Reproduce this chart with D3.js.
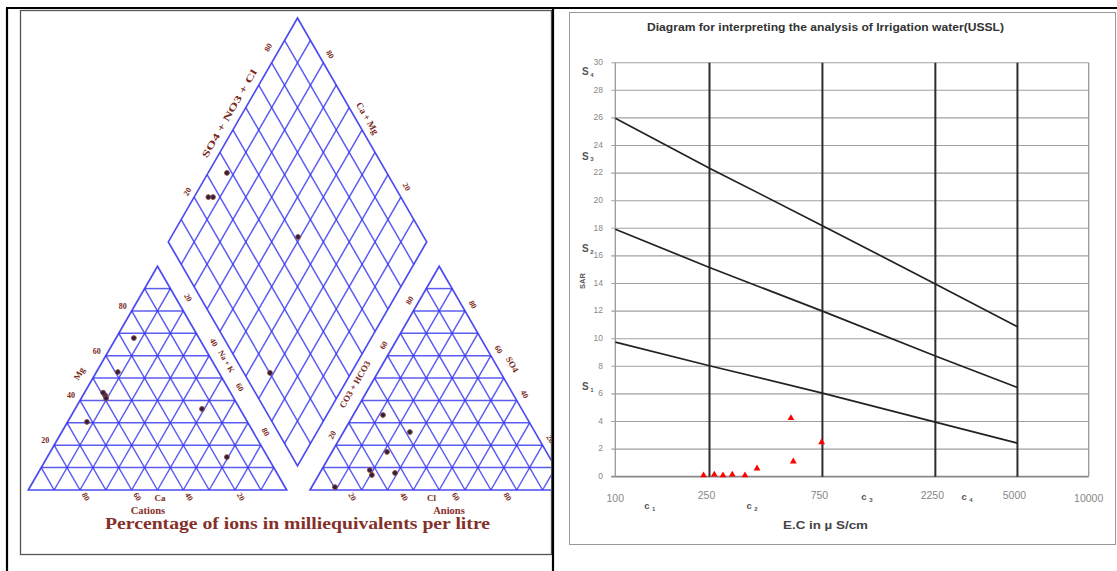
<!DOCTYPE html>
<html><head><meta charset="utf-8">
<script src="https://cdn.jsdelivr.net/npm/d3@7"></script>
<style>html,body{margin:0;padding:0;background:#fff;} svg{display:block}</style>
</head><body>
<svg id="c" width="1117" height="571"></svg>
<script>
// ================= DATA =================
// Piper diagram
const gridPercents = [10,20,30,40,50,60,70,80,90];
const edgeTickValues = [20,40,60,80];
const edgeTickLabels = ["20","40","60","80"];
// cation triangle samples (% Mg = top apex, % Na+K = bottom-right)
const cationMg  = [67.9,52.7,42.4,41.0,43.5,30.4,36.2,14.7];
const cationNaK = [6.9, 8.3, 8.5, 9.6, 7.2, 7.5, 49.1,69.5];
// anion triangle samples (% SO4 = top apex, % Cl = bottom-right)
const anionSO4 = [33.5,25.9,17.0,8.9,6.7,7.6,1.3];
const anionCl  = [11.5,25.7,21.3,18.7,20.6,29.1,9.0];
// diamond samples (a: toward left corner, b: toward right corner, %)
const diamondA = [92.7,94.5,92.7,50.9,31.4];
const diamondB = [27.3,25.5,38.1,51.3,10.1];

// USSL diagram
const sarTicks = [0,2,4,6,8,10,12,14,16,18,20,22,24,26,28,30];
const ecTicks = [100,250,750,2250,5000,10000];
const ecTickLabels = ["100","250","750","2250","5000","10000"];
const classBoundaryEC = [250,750,2250,5000];
const lineEC = [100,250,750,2250,5000];
const s1s2Line = [9.75,8.04,6.06,3.95,2.43];
const s2s3Line = [17.93,15.16,12.0,8.75,6.46];
const s3s4Line = [25.97,22.36,18.19,13.97,10.86];
const sampleEC  = [236,262,285,312,353,397,552,565,744];
const sampleSAR = [0.1,0.15,0.1,0.15,0.1,0.6,4.25,1.1,2.5];
const cClassLabels = ["1","2","3","4"];
const cClassEC = [140,378,1156,3062];
const sClassLabels = ["1","2","3","4"];
const sClassSAR = [6.5,16.5,23.2,29.3];

// ================= DRAW =================
const svg = d3.select("#c");

// ---- frames ----
svg.append("rect").attr("x",20.5).attr("y",10.5).attr("width",531).attr("height",544)
  .attr("fill","none").attr("stroke","#555").attr("stroke-width",1.3);
svg.append("rect").attr("x",569.5).attr("y",12.5).attr("width",546).attr("height",532)
  .attr("fill","none").attr("stroke","#999").attr("stroke-width",1);
const frame = [[6,8,1117,8],[7,8,7,571],[553,8,553,571]];
frame.forEach(f=>svg.append("line").attr("x1",f[0]).attr("y1",f[1]).attr("x2",f[2]).attr("y2",f[3])
  .attr("stroke","#000").attr("stroke-width",2.2));

// ================= PIPER =================
svg.append("clipPath").attr("id","pclip").append("rect").attr("x",21).attr("y",11).attr("width",530).attr("height",543);
const piper = svg.append("g").attr("clip-path","url(#pclip)");
const gridColor = "#3838f0";

const xCat = d3.scaleLinear().domain([0,100]).range([28.3,286.7]);
const xAn  = d3.scaleLinear().domain([0,100]).range([310,568.4]);
const yTri = d3.scaleLinear().domain([0,100]).range([490,266.2]);
const tern = (xs, top, right) => [xs(right + top/2), yTri(top)];

const xD = d3.scaleLinear().domain([-100,100]).range([168.3,426.7]);
const yD = d3.scaleLinear().domain([0,200]).range([465.8,18]);
const dPt = (a,b) => [xD(b-a), yD(a+b)];

const lineGen = d3.line();

function drawTriangle(xs){
  const g = piper.append("g");
  g.append("path").attr("d", lineGen([tern(xs,0,0),tern(xs,0,100),tern(xs,100,0)])+"Z")
    .attr("fill","#fff").attr("stroke",gridColor).attr("stroke-width",1.7).attr("stroke-opacity",0.9);
  gridPercents.forEach(p=>{
    const segs = [
      [tern(xs,p,0), tern(xs,p,100-p)],
      [tern(xs,0,p), tern(xs,100-p,p)],
      [tern(xs,0,100-p), tern(xs,100-p,0)]
    ];
    segs.forEach(s=>g.append("path").attr("d",lineGen(s)).attr("fill","none")
      .attr("stroke",gridColor).attr("stroke-width",1.5).attr("stroke-opacity",0.82));
  });
}
drawTriangle(xCat);
drawTriangle(xAn);

// diamond
const dg = piper.append("g");
dg.append("path").attr("d", lineGen([dPt(0,0),dPt(100,0),dPt(100,100),dPt(0,100)])+"Z")
  .attr("fill","#fff").attr("stroke",gridColor).attr("stroke-width",1.7).attr("stroke-opacity",0.9);
gridPercents.forEach(p=>{
  [[dPt(p,0),dPt(p,100)],[dPt(0,p),dPt(100,p)]].forEach(s=>
    dg.append("path").attr("d",lineGen(s)).attr("fill","none")
      .attr("stroke",gridColor).attr("stroke-width",1.5).attr("stroke-opacity",0.82));
});

// labels
const labColor = "#7a2a1c";
function lbl(x,y,t,rot,size){
  const el = piper.append("text").attr("x",x).attr("y",y).text(t)
    .attr("text-anchor","middle").attr("dominant-baseline","middle")
    .attr("font-family","'Liberation Serif', serif").attr("font-weight","bold")
    .attr("font-size",size||8).attr("fill",labColor);
  if(rot) el.attr("transform",`rotate(${rot},${x},${y})`);
  return el;
}
// cation triangle
edgeTickValues.forEach((v,i)=>{
  const p = tern(xCat,v,0); lbl(p[0]-9,p[1]-4,edgeTickLabels[i]);
  const q = tern(xCat,v,100-v); lbl(q[0]+4,q[1]-13,edgeTickLabels[3-i],60);
  lbl(xCat(v)+5,497,edgeTickLabels[3-i],60);
});
{ const p = tern(xCat,50,0); lbl(p[0]-13,p[1]-4,"Mg",-60,9); }
{ const p = tern(xCat,55,45); lbl(p[0]+10,p[1]-5,"Na + K",60,8); }
lbl(xCat(51),499,"Ca",0,9);
// anion triangle
[20,60,80].forEach(v=>{
  const p = tern(xAn,v,0); lbl(p[0]-3,p[1]-10,String(v),-60);
});
edgeTickValues.forEach((v,i)=>{
  const q = tern(xAn,v,100-v); lbl(q[0]+7,q[1]-6,edgeTickLabels[i],60);
  lbl(xAn(v)-10,497,edgeTickLabels[i],60);
});
{ const p = tern(xAn,47,0); lbl(p[0]-15,p[1],"CO3 + HCO3",-60,9); }
{ const p = tern(xAn,55,45); lbl(p[0]+14,p[1]-2,"SO4",60,9); }
lbl(xAn(47),499,"Cl",0,9);
// diamond
{ const p = dPt(100,58); lbl(p[0]-13,p[1]+2,"SO4 + NO3 + Cl",-60,9.5).attr("textLength",100).attr("lengthAdjust","spacingAndGlyphs"); }
{ const p = dPt(100,84); lbl(p[0]-8,p[1]-6,"80",-60); }
{ const p = dPt(100,20); lbl(p[0]-6,p[1]-5,"20",-60); }
{ const p = dPt(80,100); lbl(p[0]+6,p[1]-8,"80",60); }
{ const p = dPt(55,100); lbl(p[0]+11,p[1],"Ca + Mg",60,9.5); }
{ const p = dPt(20,100); lbl(p[0]+5,p[1]-10,"20",60); }

// sample markers
function marker(p){
  piper.append("circle").attr("cx",p[0]).attr("cy",p[1]).attr("r",2.4)
    .attr("fill","#2a1c4e").attr("stroke","#8b4a2b").attr("stroke-width",1);
}
cationMg.forEach((m,i)=>marker(tern(xCat,m,cationNaK[i])));
anionSO4.forEach((s,i)=>marker(tern(xAn,s,anionCl[i])));
diamondA.forEach((a,i)=>marker(dPt(a,diamondB[i])));

// bottom captions
const cap = svg.append("g").attr("font-family","'Liberation Serif', serif").attr("font-weight","bold").attr("fill","#85302a");
cap.append("text").attr("x",148).attr("y",514).attr("text-anchor","middle").attr("font-size",10.5).text("Cations");
cap.append("text").attr("x",449).attr("y",514).attr("text-anchor","middle").attr("font-size",10.5).text("Anions");
cap.append("text").attr("x",297.5).attr("y",529).attr("text-anchor","middle").attr("font-size",16)
  .attr("textLength",385).attr("lengthAdjust","spacingAndGlyphs")
  .text("Percentage of ions in milliequivalents per litre");

// ================= USSL =================
const x = d3.scaleLog().domain([100,10000]).range([615.3,1088.7]);
const y = d3.scaleLinear().domain([0,30]).range([476.7,62.7]);
const u = svg.append("g").attr("font-family","'Liberation Sans', Arial, sans-serif");

u.append("text").attr("x",825.5).attr("y",31).attr("text-anchor","middle")
  .attr("font-size",10).attr("font-weight","bold").attr("fill","#333")
  .attr("textLength",357).attr("lengthAdjust","spacingAndGlyphs")
  .text("Diagram for interpreting the analysis of Irrigation water(USSL)");

// horizontal grid + ticks
sarTicks.forEach(v=>{
  u.append("line").attr("x1",x(100)-4).attr("x2",x(10000)).attr("y1",y(v)).attr("y2",y(v))
    .attr("stroke", v===0 ? "#888" : "#a0a0a0").attr("stroke-width", v===0 ? 1.8 : 1.1);
  u.append("text").attr("x",603).attr("y",y(v)).attr("text-anchor","end").attr("dominant-baseline","middle")
    .attr("font-size",8.5).attr("fill","#888").text(v);
});
// plot edges
[100,10000].forEach(v=>u.append("line").attr("x1",x(v)).attr("x2",x(v)).attr("y1",y(30)).attr("y2",y(0))
  .attr("stroke","#999").attr("stroke-width",1.3));
// class boundaries
classBoundaryEC.forEach(v=>u.append("line").attr("x1",x(v)).attr("x2",x(v)).attr("y1",y(30)).attr("y2",y(0))
  .attr("stroke","#2d2d2d").attr("stroke-width",2));
// sodium hazard lines
const ul = d3.line().x((d,i)=>x(lineEC[i])).y(d=>y(d));
[s1s2Line,s2s3Line,s3s4Line].forEach(s=>u.append("path").attr("d",ul(s))
  .attr("fill","none").attr("stroke","#222").attr("stroke-width",1.7));
// samples
sampleEC.forEach((e,i)=>u.append("path").attr("d",d3.symbol(d3.symbolTriangle,20)())
  .attr("transform",`translate(${x(e)},${y(sampleSAR[i])})`).attr("fill","#ff0000"));

// x tick labels
ecTicks.forEach((v,i)=>{
  const end = (i===0||i===ecTicks.length-1);
  u.append("text").attr("x",x(v)-(end?0:3)).attr("y",end?502:498.5).attr("text-anchor","middle")
    .attr("font-size",10.5).attr("fill","#888").text(ecTickLabels[i]);
});
// c class labels
cClassEC.forEach((e,i)=>{
  const t = u.append("text").attr("x",x(e)).attr("y",i<2?508.5:499.5).attr("text-anchor","middle")
    .attr("font-size",9.5).attr("font-weight","bold").attr("fill","#555");
  t.append("tspan").text("c");
  t.append("tspan").attr("dx",2.5).attr("dy",2).attr("font-size",6).text(cClassLabels[i]);
});
// S class labels
sClassSAR.forEach((s,i)=>{
  const t = u.append("text").attr("x",582).attr("y",y(s)).attr("dominant-baseline","middle")
    .attr("font-size",10).attr("font-weight","bold").attr("fill","#555");
  t.append("tspan").text("S");
  t.append("tspan").attr("dx",1.5).attr("dy",2.5).attr("font-size",6).text(sClassLabels[i]);
});
u.append("text").attr("transform","translate(585,281) rotate(-90)").attr("text-anchor","middle")
  .attr("font-size",7.5).attr("font-weight","bold").attr("fill","#555").text("SAR");
u.append("text").attr("x",825.5).attr("y",529).attr("text-anchor","middle")
  .attr("font-size",10).attr("font-weight","bold").attr("fill","#444")
  .attr("textLength",85).attr("lengthAdjust","spacingAndGlyphs").text("E.C in  \u00b5 S/cm");
</script>
</body></html>
